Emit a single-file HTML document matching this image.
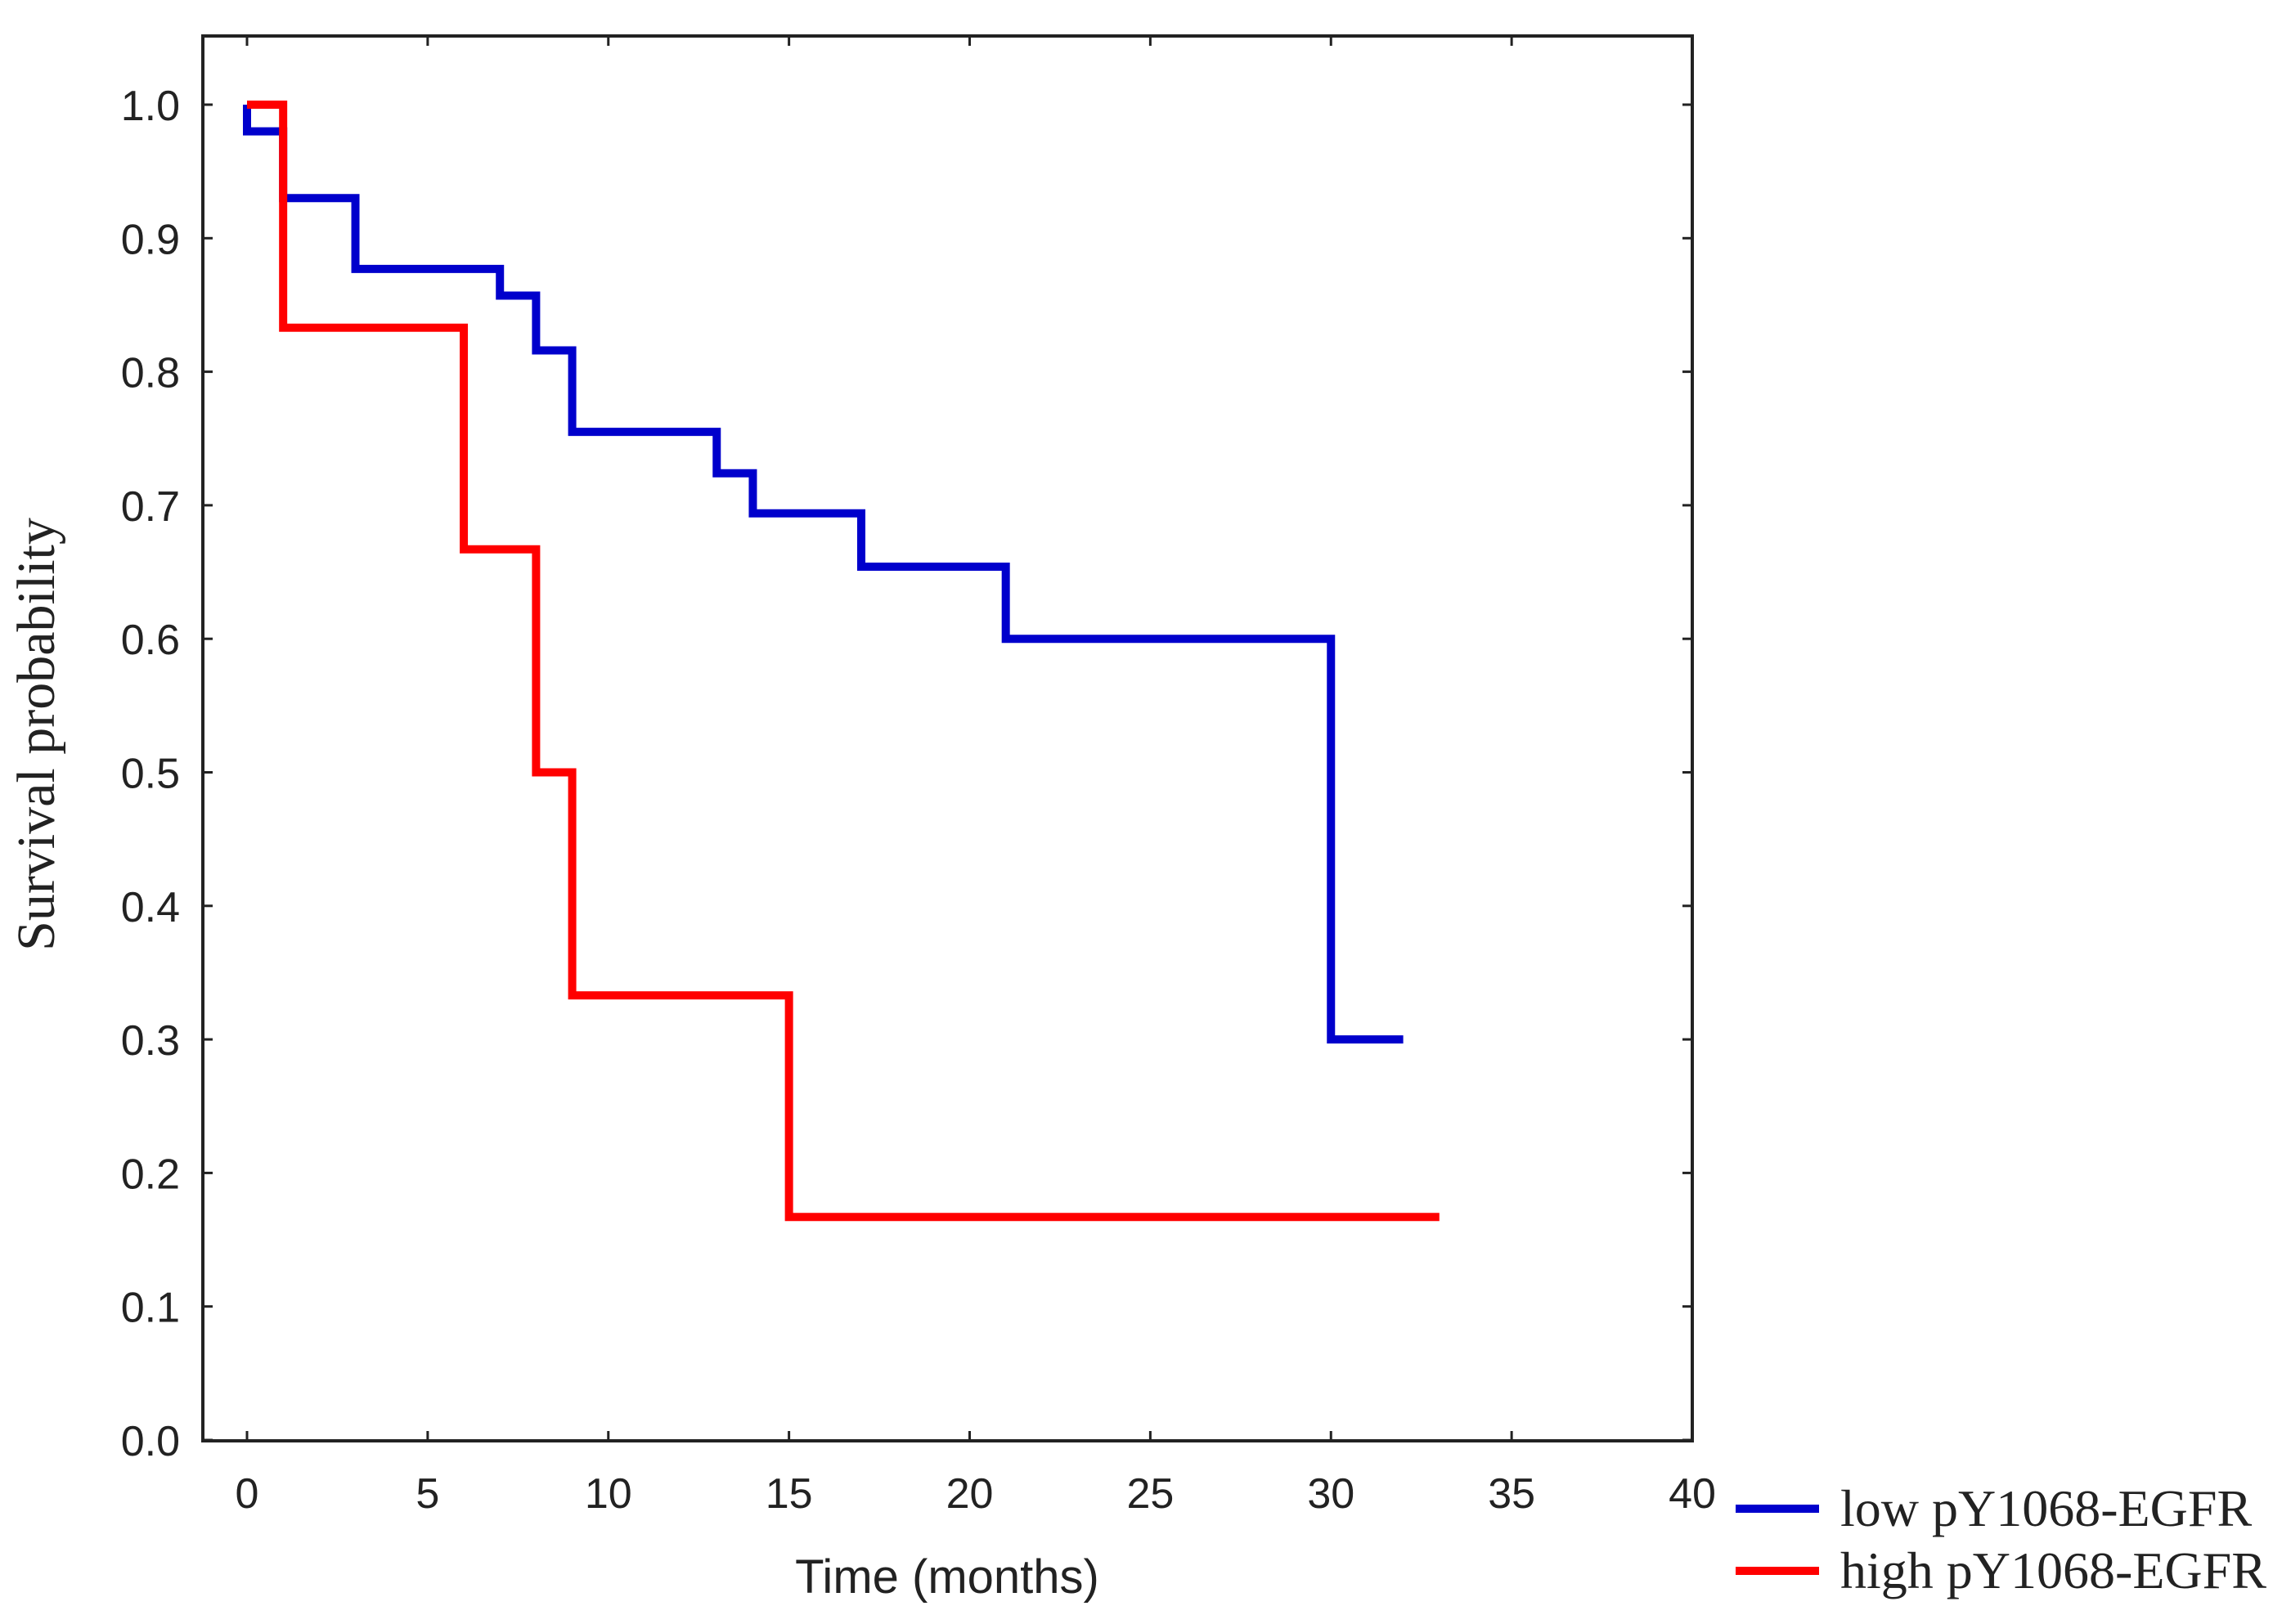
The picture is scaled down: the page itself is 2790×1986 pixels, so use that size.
<!DOCTYPE html>
<html><head><meta charset="utf-8"><style>
html,body{margin:0;padding:0;background:#fff;}
svg{display:block;}
</style></head><body>
<svg id="chart" width="2790" height="1986" viewBox="0 0 2790 1986" xmlns="http://www.w3.org/2000/svg">
<rect x="248" y="44" width="1821" height="1718" fill="#fff" stroke="#222" stroke-width="4"/>
<g id="ticks"></g>
<g id="series"></g>
<text x="66" y="898" transform="rotate(-90 66 898)" text-anchor="middle" font-family="Liberation Serif, serif" font-size="66" fill="#222">Survival probability</text>
<text x="1158" y="1948" text-anchor="middle" font-family="Liberation Sans, sans-serif" font-size="58" fill="#222">Time (months)</text>
<g>
<line x1="2122" y1="1845" x2="2224" y2="1845" stroke="#0000cc" stroke-width="10"/>
<text x="2250" y="1866" font-family="Liberation Serif, serif" font-size="64" fill="#222">low pY1068-EGFR</text>
<line x1="2122" y1="1921" x2="2224" y2="1921" stroke="#ff0000" stroke-width="10"/>
<text x="2250" y="1942" font-family="Liberation Serif, serif" font-size="64" fill="#222">high pY1068-EGFR</text>
</g>
</svg>
<script>
const xTicks = [0,5,10,15,20,25,30,35,40];
const yTicks = [0.0,0.1,0.2,0.3,0.4,0.5,0.6,0.7,0.8,0.9,1.0];
const lowTimes = [0,1,3,7,8,9,13,14,17,21,30,32];
const lowSurv  = [0.98,0.93,0.877,0.857,0.816,0.755,0.724,0.694,0.654,0.60,0.30,0.30];
const highTimes = [0,1,6,8,9,15,33];
const highSurv  = [1.0,0.833,0.667,0.5,0.333,0.167,0.167];

const NS = 'http://www.w3.org/2000/svg';
function xs(t){ return 302 + t*(2069-302)/40; }
function ys(v){ return 1761 - v*(1761-128); }
function mk(tag, attrs){ const e=document.createElementNS(NS,tag); for(const k in attrs) e.setAttribute(k,attrs[k]); return e; }

const tg = document.getElementById('ticks');
xTicks.forEach(t=>{
  const x=xs(t);
  const a=mk('line',{x1:x,y1:1762,x2:x,y2:1750,stroke:'#222','stroke-width':3});
  
  
  tg.appendChild(a);
  const b=mk('line',{x1:x,y1:44,x2:x,y2:56,stroke:'#222','stroke-width':3});
  
  
  tg.appendChild(b);
  const l=mk('text',{x:x,y:1844,'text-anchor':'middle','font-family':'Liberation Sans, sans-serif','font-size':52,fill:'#222'});
  l.textContent=String(t);
  
  
  tg.appendChild(l);
});
yTicks.forEach(v=>{
  const y=ys(v);
  const a=mk('line',{x1:248,y1:y,x2:260,y2:y,stroke:'#222','stroke-width':3});
  
  
  tg.appendChild(a);
  const b=mk('line',{x1:2057,y1:y,x2:2069,y2:y,stroke:'#222','stroke-width':3});
  
  
  tg.appendChild(b);
  const l=mk('text',{x:220,y:y+19,'text-anchor':'end','font-family':'Liberation Sans, sans-serif','font-size':52,fill:'#222'});
  l.textContent=v.toFixed(1);
  
  
  tg.appendChild(l);
});

function stepPath(times, surv, start){
  let d='M'+xs(times[0])+' '+ys(start)+' L'+xs(times[0])+' '+ys(surv[0]);
  for(let i=1;i<times.length;i++){
    d+=' L'+xs(times[i])+' '+ys(surv[i-1])+' L'+xs(times[i])+' '+ys(surv[i]);
  }
  return d;
}
const sg=document.getElementById('series');
const pl=mk('path',{d:stepPath(lowTimes,lowSurv,1.0),fill:'none',stroke:'#0000cc','stroke-width':10,'stroke-linejoin':'miter'});


sg.appendChild(pl);
const ph=mk('path',{d:stepPath(highTimes,highSurv,1.0),fill:'none',stroke:'#ff0000','stroke-width':10,'stroke-linejoin':'miter'});


sg.appendChild(ph);
</script>
</body></html>
